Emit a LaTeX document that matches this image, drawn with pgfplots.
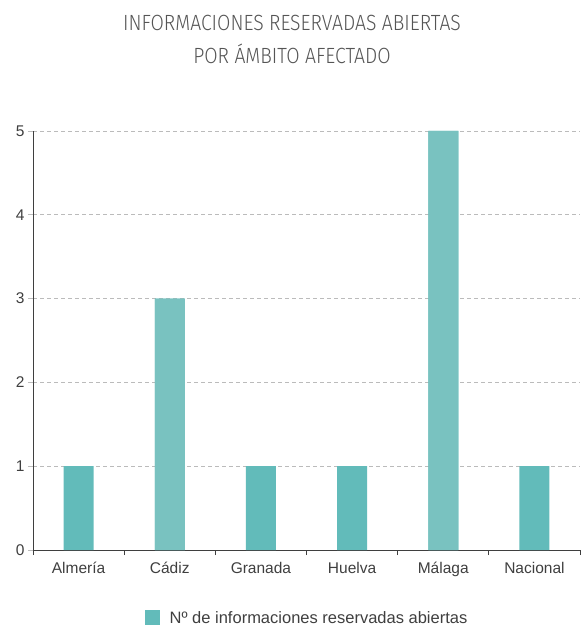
\documentclass[border=0pt]{standalone}
\usepackage{pgfplots}
\pgfplotsset{compat=1.18}
\usepackage{fontspec}
\setmainfont{Liberation Sans}
\newfontfamily\titlefont[FakeStretch=0.88]{Fira Sans Light}
\definecolor{barA}{HTML}{62BBBA}
\definecolor{barB}{HTML}{79C2C0}
\definecolor{txt}{HTML}{3F3F3F}
\definecolor{ttl}{HTML}{555555}
\definecolor{gridc}{HTML}{BBBBBB}
\begin{document}
\begin{tikzpicture}
\path[use as bounding box] (-33bp,-76bp) rectangle (549bp,550bp);
\begin{axis}[
  at={(0,0)}, anchor=south west,
  scale only axis, width=547bp, height=419bp,
  xmin=-0.5, xmax=5.5, ymin=0, ymax=5,
  axis x line*=bottom, axis y line*=left,
  axis line style={txt, line width=0.8pt},
  xtick={-0.5,0.5,1.5,2.5,3.5,4.5,5.5},
  xticklabels={},
  x tick style={draw=txt, line width=0.8pt},
  extra x ticks={0,1,2,3,4,5},
  extra x tick labels={Almería,Cádiz,Granada,Huelva,Málaga,Nacional},
  extra x tick style={major tick length=0pt, grid=none, xticklabel style={yshift=-9bp}},
  ytick={0,1,2,3,4,5},
  ymajorgrids,
  grid style={gridc, dashed, dash pattern=on 4bp off 3bp, line width=0.6pt},
  y tick style={draw=gridc, line width=0.6pt},
  tick align=outside, major tick length=5bp,
  tick label style={font=\fontsize{15.5bp}{17bp}\selectfont, text=txt},
  /pgf/number format/assume math mode=true,
  legend style={at={(0.501,-0.162)}, anchor=center, draw=none, fill=none,
    font=\fontsize{16.5bp}{18bp}\selectfont, text=txt, legend cell align=left},
  legend image code/.code={\fill[barA] (0bp,-7.5bp) rectangle (15bp,7.5bp);},
]
\addplot[ybar, bar width=30bp, bar shift=0pt, fill=barA, draw=none]
  coordinates {(0,1) (1,3) (2,1) (3,1) (4,5) (5,1)};
\addlegendentry{\hspace{8bp}Nº de informaciones reservadas abiertas}
\addplot[ybar, bar width=30bp, bar shift=0pt, fill=barB, draw=none, forget plot]
  coordinates {(1,3) (4,5)};
\end{axis}
\node[font=\titlefont\fontsize{22bp}{26bp}\selectfont, text=ttl, align=center] at (259bp,511bp)
  {INFORMACIONES RESERVADAS ABIERTAS\\[7bp]POR ÁMBITO AFECTADO};
\end{tikzpicture}
\end{document}
